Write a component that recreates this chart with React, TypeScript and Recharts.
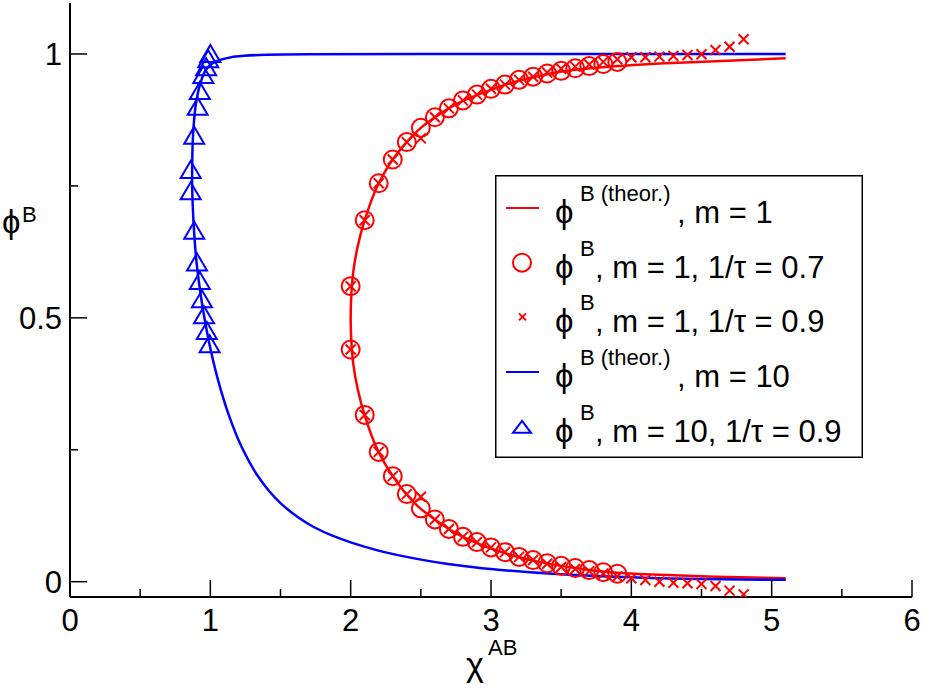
import { ComposedChart, XAxis, YAxis, Line, Scatter, Legend } from 'recharts'

const FONT = "'Liberation Sans', Arial, sans-serif"
const RED = '#ff0000'
const BLUE = '#0000ff'

const xTicks = [0, 0.5, 1, 1.5, 2, 2.5, 3, 3.5, 4, 4.5, 5, 5.5, 6]
const yTicks = [0, 0.25, 0.5, 0.75, 1]

// theory m = 1 (bottom branch -> top branch)
const redTheoryX = [5.1, 4.6, 4.2, 3.9, 3.6, 3.3, 3.0, 2.8, 2.6, 2.5, 2.4, 2.3, 2.2, 2.1, 2.05, 2.02, 2.005, 2.0,
  2.005, 2.02, 2.05, 2.1, 2.2, 2.3, 2.4, 2.5, 2.6, 2.8, 3.0, 3.3, 3.6, 3.9, 4.2, 4.6, 5.1]
const redTheoryY = [0.0065, 0.0095, 0.013, 0.017, 0.026, 0.04, 0.063, 0.085, 0.118, 0.138, 0.165, 0.2, 0.245, 0.315, 0.365, 0.41, 0.455, 0.5,
  0.545, 0.59, 0.635, 0.685, 0.755, 0.8, 0.833, 0.86, 0.88, 0.911, 0.932, 0.956, 0.97, 0.977, 0.982, 0.986, 0.992]

// theory m = 10
const blueTheoryX = [5.1, 4.5, 4.0, 3.5, 3.0, 2.68, 2.32, 2.0, 1.87, 1.74, 1.62, 1.5, 1.42, 1.34, 1.22, 1.13, 1.056, 1.01, 0.975, 0.945, 0.92, 0.9, 0.885,
  0.875, 0.87, 0.872, 0.88, 0.9, 0.93, 0.97, 1.02, 1.1, 1.22, 1.4, 1.7, 2.5, 5.1]
const blueTheoryY = [0.0035, 0.005, 0.0083, 0.014, 0.024, 0.0342, 0.0513, 0.0746, 0.0872, 0.1032, 0.1231, 0.149, 0.1715, 0.1997, 0.257, 0.317, 0.381, 0.43, 0.475, 0.52, 0.565, 0.61, 0.66,
  0.71, 0.76, 0.81, 0.86, 0.91, 0.945, 0.97, 0.983, 0.991, 0.996, 0.9985, 0.9995, 0.99995, 1.0]

// m = 1, 1/tau = 0.7
const circX = [2.0, 2.1, 2.2, 2.3, 2.4, 2.5, 2.6, 2.7, 2.8, 2.9, 3.0, 3.1, 3.2, 3.3, 3.4, 3.5, 3.6, 3.7, 3.8, 3.9]
const circUpper = [0.56, 0.685, 0.755, 0.8, 0.833, 0.86, 0.88, 0.897, 0.912, 0.923, 0.934, 0.942, 0.951, 0.957, 0.963, 0.968, 0.973, 0.977, 0.981, 0.985]
const circLower = [0.44, 0.316, 0.246, 0.2, 0.166, 0.139, 0.118, 0.1, 0.085, 0.075, 0.065, 0.056, 0.047, 0.041, 0.035, 0.03, 0.026, 0.022, 0.018, 0.015]

// m = 1, 1/tau = 0.9
const crossX = [2.0, 2.1, 2.2, 2.3, 2.4, 2.5, 2.6, 2.7, 2.8, 2.9, 3.0, 3.1, 3.2, 3.3, 3.4, 3.5, 3.6, 3.7, 3.8, 3.9,
  4.0, 4.1, 4.2, 4.3, 4.4, 4.5, 4.6, 4.7, 4.8]
const crossUpper = [0.56, 0.685, 0.755, 0.8, 0.833, 0.84, 0.88, 0.897, 0.912, 0.923, 0.934, 0.942, 0.951, 0.957, 0.965, 0.972, 0.976, 0.98, 0.985, 0.99,
  0.9937, 0.9937, 0.995, 0.9962, 0.998, 0.9994, 1.0075, 1.0138, 1.028]
const crossLower = [0.44, 0.316, 0.246, 0.2, 0.166, 0.161, 0.118, 0.1, 0.085, 0.075, 0.065, 0.056, 0.047, 0.041, 0.034, 0.028, 0.024, 0.02, 0.015, 0.01,
  0.0064, 0.0032, 0, -0.002, -0.003, -0.0044, -0.0083, -0.017, -0.024]

// m = 10, 1/tau = 0.9
const triX = [1.0, 0.985, 0.97, 0.95, 0.925, 0.91, 0.885, 0.86, 0.86, 0.885, 0.905, 0.925, 0.94, 0.955, 0.975, 0.995]
const triY = [1.0, 0.99, 0.975, 0.96, 0.93, 0.9, 0.845, 0.78, 0.74, 0.665, 0.605, 0.57, 0.535, 0.505, 0.475, 0.45]

const pts = (xs: number[], ys: number[]) => xs.map((x, i) => ({ x, y: ys[i] }))

const redTheory = pts(redTheoryX, redTheoryY)
const blueTheory = pts(blueTheoryX, blueTheoryY)
const circles = [...pts(circX, circUpper), ...pts(circX, circLower)]
const crosses = [...pts(crossX, crossUpper), ...pts(crossX, crossLower)]
const triangles = pts(triX, triY)

const ring = (p: any) => <circle cx={p.cx} cy={p.cy} r={9} fill="none" stroke={RED} strokeWidth={2} />
const cross = (p: any) => (
  <path d={`M${p.cx - 5},${p.cy - 5}L${p.cx + 5},${p.cy + 5}M${p.cx - 5},${p.cy + 5}L${p.cx + 5},${p.cy - 5}`}
    stroke={RED} strokeWidth={2} fill="none" />
)
const tri = (p: any) => (
  <path d={`M${p.cx},${p.cy - 9}L${p.cx + 10},${p.cy + 8}L${p.cx - 10},${p.cy + 8}Z`}
    stroke={BLUE} strokeWidth={2} fill="none" />
)

const fmt = (v: number) => (v === 0.5 ? '0.5' : String(v))

const bottomTick = (p: any) => {
  const v = p.payload.value
  const major = Number.isInteger(v)
  return (
    <g>
      <line x1={p.x} x2={p.x} y1={p.y} y2={p.y - (major ? 17 : 8)} stroke="#000" strokeWidth={1.5} />
      {major && <text x={p.x} y={p.y + 34} textAnchor="middle" fontSize={31} fontFamily={FONT} fill="#000">{v}</text>}
    </g>
  )
}
const topTick = (p: any) => {
  const major = Number.isInteger(p.payload.value)
  return <line x1={p.x} x2={p.x} y1={p.y} y2={p.y + (major ? 17 : 8)} stroke="#000" strokeWidth={1.5} />
}
const leftTick = (p: any) => {
  const v = p.payload.value
  const major = Number.isInteger(v * 2)
  return (
    <g>
      <line x1={p.x} x2={p.x + (major ? 17 : 8)} y1={p.y} y2={p.y} stroke="#000" strokeWidth={1.5} />
      {major && <text x={p.x - 8} y={p.y + 11} textAnchor="end" fontSize={31} fontFamily={FONT} fill="#000">{fmt(v)}</text>}
    </g>
  )
}
const rightTick = (p: any) => {
  const major = Number.isInteger(p.payload.value * 2)
  return <line x1={p.x} x2={p.x - (major ? 17 : 8)} y1={p.y} y2={p.y} stroke="#000" strokeWidth={1.5} />
}

const rows = [
  { sup: 'B (theor.)', rest: ', m = 1', restX: 182, kind: 'redline' },
  { sup: 'B', rest: ', m = 1, 1/τ = 0.7', restX: 100, kind: 'ring' },
  { sup: 'B', rest: ', m = 1, 1/τ = 0.9', restX: 100, kind: 'cross' },
  { sup: 'B (theor.)', rest: ', m = 10', restX: 182, kind: 'blueline' },
  { sup: 'B', rest: ', m = 10, 1/τ = 0.9', restX: 100, kind: 'tri' },
]

const LegendBox = () => (
  <svg width={368} height={283} style={{ display: 'block' }}>
    <rect x={0.75} y={0.75} width={366.5} height={281.5} fill="#fff" stroke="#000" strokeWidth={1.5} />
    {rows.map((r, i) => {
      const base = 48 + i * 54.7
      const my = base - 15
      let mark = null
      if (r.kind === 'redline') mark = <line x1={11} x2={44} y1={my} y2={my} stroke={RED} strokeWidth={2} />
      if (r.kind === 'blueline') mark = <line x1={11} x2={44} y1={my} y2={my} stroke={BLUE} strokeWidth={2} />
      if (r.kind === 'ring') mark = ring({ cx: 27, cy: my })
      if (r.kind === 'cross') mark = <path d={`M${24},${my - 4}L${31},${my + 3}M${24},${my + 3}L${31},${my - 4}`} stroke={RED} strokeWidth={2} />
      if (r.kind === 'tri') mark = <path d={`M27,${my - 6}L36,${my + 6}L18,${my + 6}Z`} stroke={BLUE} strokeWidth={2} fill="none" />
      return (
        <g key={i} fill="#000" fontFamily={FONT}>
          {mark}
          <text x={60} y={base} fontSize={33}>ϕ</text>
          <text x={85} y={base - 22} fontSize={22}>{r.sup}</text>
          <text x={r.restX} y={base} fontSize={31}>{r.rest}</text>
        </g>
      )
    })}
  </svg>
)

const App = () => {
  return (
    <div style={{ position: 'absolute', left: 0, top: 0, width: 931, height: 688, background: '#fff' }}>
      <ComposedChart width={931} height={688} margin={{ top: 3, right: 19, left: 0, bottom: 0 }}>
        <XAxis xAxisId="b" type="number" dataKey="x" domain={[0, 6]} ticks={xTicks} interval={0} allowDataOverflow
          height={91} tickSize={0} tickMargin={0} tick={bottomTick} axisLine={{ stroke: '#000', strokeWidth: 2 }}
          label={() => (
            <g fill="#000" fontFamily={FONT}>
              <text x={466} y={676} fontSize={34}>χ</text>
              <text x={488} y={655} fontSize={22}>AB</text>
            </g>
          )} />
        <XAxis xAxisId="t" orientation="top" type="number" dataKey="x" domain={[0, 6]} ticks={xTicks} interval={0} allowDataOverflow
          height={0} tickSize={0} tickMargin={0} tick={topTick} axisLine={{ stroke: '#000', strokeWidth: 2 }} />
        <YAxis yAxisId="l" type="number" dataKey="y" domain={[-0.029, 1.0966]} ticks={yTicks} interval={0} allowDataOverflow
          width={70} tickSize={0} tickMargin={0} tick={leftTick} axisLine={{ stroke: '#000', strokeWidth: 2 }}
          label={() => (
            <g fill="#000" fontFamily={FONT}>
              <text x={2} y={233} fontSize={33}>ϕ</text>
              <text x={22} y={222} fontSize={22}>B</text>
            </g>
          )} />
        <YAxis yAxisId="r" orientation="right" type="number" dataKey="y" domain={[-0.029, 1.0966]} ticks={yTicks} interval={0} allowDataOverflow
          width={0} tickSize={0} tickMargin={0} tick={rightTick} axisLine={{ stroke: '#000', strokeWidth: 2 }} />
        <Legend layout="vertical" align="center" verticalAlign="middle" content={() => <LegendBox />}
          wrapperStyle={{ left: 495, top: 175, width: 368, height: 283 }} />
        <Line xAxisId="b" yAxisId="l" data={redTheory} dataKey="y" type="monotoneY" stroke={RED} strokeWidth={2.5}
          dot={false} activeDot={false} isAnimationActive={false} />
        <Scatter xAxisId="b" yAxisId="l" data={circles} dataKey="y" shape={ring} isAnimationActive={false} />
        <Scatter xAxisId="b" yAxisId="l" data={crosses} dataKey="y" shape={cross} isAnimationActive={false} />
        <Line xAxisId="b" yAxisId="l" data={blueTheory} dataKey="y" type="monotoneY" stroke={BLUE} strokeWidth={2.5}
          dot={false} activeDot={false} isAnimationActive={false} />
        <Scatter xAxisId="b" yAxisId="l" data={triangles} dataKey="y" shape={tri} isAnimationActive={false} />
      </ComposedChart>
    </div>
  )
}

export default App
